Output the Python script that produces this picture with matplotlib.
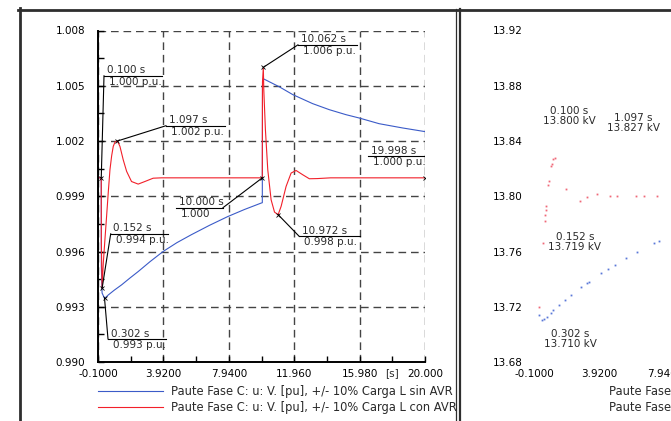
import matplotlib.pyplot as plt
from matplotlib.lines import Line2D

plt.rcParams['font.family'] = 'DejaVu Sans'
plt.rcParams['font.size'] = 7.5
plt.rcParams['text.color'] = '#2a2a2a'

# axis ticks
x_ticks = [-0.1, 3.92, 7.94, 11.96, 15.98, 20.0]
x_labels = ['-0.1000', '3.9200', '7.9400', '11.960', '15.980', '20.000']
y_ticks = [0.990, 0.993, 0.996, 0.999, 1.002, 1.005, 1.008]
y_labels = ['0.990', '0.993', '0.996', '0.999', '1.002', '1.005', '1.008']
kv_ticks = [13.68, 13.72, 13.76, 13.80, 13.84, 13.88, 13.92]
kv_labels = ['13.68', '13.72', '13.76', '13.80', '13.84', '13.88', '13.92']

name_sin = 'Paute Fase C: u: V. [pu], +/- 10% Carga L sin AVR'
name_con = 'Paute Fase C: u: V. [pu], +/- 10% Carga L con AVR'

# voltage in p.u., load step without AVR
t_sin = [-0.1, 0.1, 0.105, 0.15, 0.302, 0.531, 0.9, 1.352, 1.85, 2.369, 3.1,
         3.901, 4.75, 5.635, 6.75, 7.884, 8.9, 9.93, 10.0, 10.01, 10.062,
         10.176, 11.05, 11.87, 13.09, 14.12, 15.14, 15.95, 17.18, 18.61, 20.0]
v_sin = [1.000, 1.000, 0.9952, 0.99375, 0.99345, 0.99364, 0.99390, 0.99419,
         0.99455, 0.99491, 0.99545, 0.99600, 0.99648, 0.99691, 0.99742,
         0.99790, 0.99828, 0.99863, 0.99865, 1.0050, 1.00538, 1.00533,
         1.00494, 1.00452, 1.00403, 1.00370, 1.00343, 1.00325, 1.00294,
         1.00271, 1.00251]

# voltage in p.u., load step with AVR
t_con = [-0.1, 0.1, 0.105, 0.152, 0.225, 0.33, 0.427, 0.53, 0.635, 0.74,
         0.838, 0.95, 1.097, 1.248, 1.45, 1.66, 1.96, 2.37, 2.78, 3.29, 3.8,
         10.0, 10.01, 10.062, 10.09, 10.19, 10.335, 10.54, 10.75, 10.972,
         11.156, 11.46, 11.77, 12.075, 12.48, 12.89, 13.4, 14.2, 20.0]
v_con = [1.000, 1.000, 0.9965, 0.9940, 0.99537, 0.9967, 0.9979, 0.9992,
         1.00044, 1.0012, 1.00171, 1.00195, 1.0020, 1.00171, 1.00098,
         1.00035, 0.9998, 0.99966, 0.9998, 0.99998, 1.000,
         1.000, 1.0052, 1.0060, 1.0048, 1.00262, 1.00044, 0.99881, 0.99814,
         0.9980, 0.99845, 0.99953, 1.00026, 1.00040, 1.00017, 0.99995,
         0.99996, 1.000, 1.000]

# marked points
mark_t = [0.100, 1.097, 10.062, 10.000, 0.152, 0.302, 10.972, 19.998]
mark_v = [1.000, 1.002, 1.006, 1.000, 0.994, 0.99345, 0.998, 1.000]
mark_top = ['0.100 s', '1.097 s', '10.062 s', '10.000 s', '0.152 s',
            '0.302 s', '10.972 s', '19.998 s']
mark_bot = ['1.000 p.u.', '1.002 p.u.', '1.006 p.u.', '1.000', '0.994 p.u.',
            '0.993 p.u.', '0.998 p.u.', '1.000 p.u.']
# label boxes: line start, line end, line height, which end the leader uses
box_x0 = [0.269, 4.079, 12.19, 4.694, 0.681, 0.515, 12.27, 16.49]
box_x1 = [3.834, 7.706, 15.82, 7.583, 4.221, 4.079, 16.00, 19.998]
box_y = [1.00554, 1.00283, 1.00722, 0.99838, 0.99696, 0.99125, 0.99682, 1.00116]
box_end = ['l', 'l', 'l', 'r', 'l', 'l', 'l', 'r']

# same records in kV, sampled
kv_t_con = [1.187, 1.083, 0.985, 0.942, 0.819, 0.776, 1.842, 0.635, 0.635,
            0.592, 0.574, 2.737, 3.166, 3.742, 4.557, 5.029, 6.150, 6.640,
            7.455, 0.470, 0.225]
kv_v_con = [13.8277, 13.8270, 13.8236, 13.8221, 13.8112, 13.8078, 13.8054,
            13.7933, 13.7897, 13.7861, 13.7824, 13.7962, 13.7994, 13.8016,
            13.8004, 13.8001, 13.8004, 13.8004, 13.8004, 13.7661, 13.7197]
kv_t_sin = [7.559, 7.253, 6.230, 5.556, 4.882, 4.453, 4.048, 3.270, 3.166,
            2.762, 2.167, 1.800, 1.413, 1.083, 0.923, 0.678, 0.513, 0.390,
            0.225]
kv_v_sin = [13.7677, 13.7661, 13.7598, 13.7554, 13.7505, 13.7476, 13.7445,
            13.7380, 13.7371, 13.7342, 13.7284, 13.7247, 13.7211, 13.7177,
            13.7157, 13.7128, 13.7114, 13.7102, 13.7141]
kv_text = ['0.100 s\n13.800 kV', '1.097 s\n13.827 kV',
           '0.152 s\n13.719 kV', '0.302 s\n13.710 kV']
kv_text_pos = [(2.05, 13.858), (5.99, 13.853), (2.42, 13.767), (2.11, 13.697)]

BLUE = '#3b5bc8'
RED = '#f2202a'
W, H = 671, 421
LEG_FS = 8.3

fig = plt.figure(figsize=(6.71, 4.21), dpi=100)
ax = fig.add_axes([98 / W, 1 - 362 / H, 327 / W, 331.5 / H])
ax2 = fig.add_axes([534 / W, 1 - 362 / H, 327 / W, 331.5 / H])

ax.plot(t_sin, v_sin, color=BLUE, lw=0.8, label=name_sin)
ax.plot(t_con, v_con, color=RED, lw=0.8, label=name_con)

for i in range(len(mark_t)):
    t, v = mark_t[i], mark_v[i]
    x0, x1, yl = box_x0[i], box_x1[i], box_y[i]
    ax.plot([x0, x1], [yl, yl], color='k', lw=0.8)
    xa = x0 if box_end[i] == 'l' else x1
    ax.plot([xa, t], [yl, v], color='k', lw=0.8)
    ax.plot(t, v, marker='x', ms=3, mew=0.6, color='k')
    ax.annotate(mark_top[i], (x0, yl), xytext=(2, 0.3),
                textcoords='offset points', ha='left', va='bottom')
    ax.annotate(mark_bot[i], (x0, yl), xytext=(3.5, -0.6),
                textcoords='offset points', ha='left', va='top')

ax.set_xlim(-0.1, 20.0)
ax.set_ylim(0.990, 1.008)
ax.set_xticks(x_ticks)
ax.set_xticklabels(x_labels)
ax.set_yticks(y_ticks)
ax.set_yticklabels(y_labels)
ax.set_xticks([(a + b) / 2 for a, b in zip(x_ticks[:-1], x_ticks[1:])], minor=True)
ax.set_yticks([(a + b) / 2 for a, b in zip(y_ticks[:-1], y_ticks[1:])], minor=True)
ax.tick_params(which='both', direction='in', color='k', width=1, length=4)
ax.tick_params(axis='x', pad=5)
ax.tick_params(axis='y', pad=9)
ax.grid(True, which='major', color='#444444', lw=1.0, linestyle=(0, (5.5, 3.5)))
for s in ['top', 'right']:
    ax.spines[s].set_visible(False)
for s in ['left', 'bottom']:
    ax.spines[s].set_linewidth(1.4)
ax.annotate('[s]', (18.0, 0.990), xytext=(0, -4.2), textcoords='offset points',
            ha='center', va='top')

ax.legend(loc='upper left', bbox_to_anchor=(98 / W, 1 - 385 / H),
          bbox_transform=fig.transFigure, frameon=False, borderpad=0,
          borderaxespad=0, handlelength=5.65, handletextpad=0.72,
          labelspacing=0.25, fontsize=LEG_FS)

# kV view
ax2.plot(kv_t_con, kv_v_con, 's', ms=1.3, mew=0, color='#f06878')
ax2.plot(kv_t_sin, kv_v_sin, 's', ms=1.3, mew=0, color='#5a78d8')
for txt, (tx, ty) in zip(kv_text, kv_text_pos):
    ax2.text(tx, ty, txt, ha='center', va='center', linespacing=1.0)
ax2.set_xlim(-0.1, 20.0)
ax2.set_ylim(13.68, 13.92)
ax2.set_xticks(x_ticks)
ax2.set_xticklabels(x_labels)
ax2.set_yticks(kv_ticks)
ax2.set_yticklabels(kv_labels)
ax2.tick_params(length=0)
ax2.tick_params(axis='x', pad=5)
ax2.tick_params(axis='y', pad=8)
for s in ax2.spines.values():
    s.set_visible(False)
fig.text(609 / W, 1 - 392 / H, name_sin, va='center', fontsize=LEG_FS)
fig.text(609 / W, 1 - 407.5 / H, name_con, va='center', fontsize=LEG_FS)

# window frames
def frame(xs, ys, lw, c='#2e2e2e'):
    fig.add_artist(Line2D([x / W for x in xs], [1 - y / H for y in ys],
                          transform=fig.transFigure, color=c, lw=lw))

frame([19.5, 19.5], [8, 421], 2.0)
frame([18, 671], [9.5, 9.5], 2.0)
frame([456, 456], [9, 421], 0.9)
frame([459.8, 459.8], [9, 421], 1.6)

fig.savefig('out.png', dpi=100)
